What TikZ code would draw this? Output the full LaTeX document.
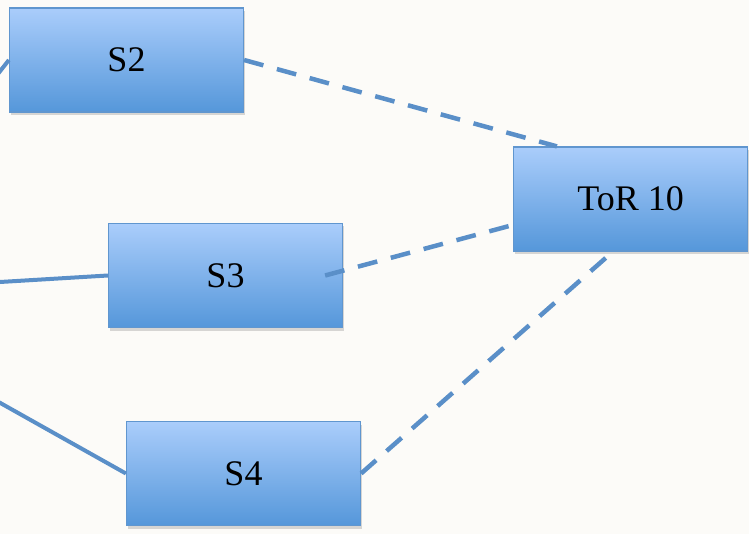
\documentclass[tikz,border=0pt]{standalone}
\usepackage{fontspec}
\setmainfont{Liberation Serif}
\usetikzlibrary{shadows}
\definecolor{paper}{HTML}{FCFBF8}
\definecolor{boxtop}{HTML}{AACDFB}
\definecolor{boxbot}{HTML}{5597DA}
\definecolor{boxedge}{HTML}{6096CF}
\definecolor{linkblue}{HTML}{5A8FC8}

\begin{document}
\begin{tikzpicture}[x=1pt,y=-1pt,
  switchbox/.style={rectangle, draw=boxedge, line width=1.2pt,
    top color=boxtop, bottom color=boxbot,
    minimum width=234pt, minimum height=104pt, inner sep=0pt,
    font=\fontsize{36}{40}\selectfont,
    drop shadow={shadow xshift=1pt, shadow yshift=-3pt, opacity=0.3}},
  wire/.style={linkblue, line width=4pt},
  uplink/.style={linkblue, line width=4.5pt, dash pattern=on 20pt off 14pt}]
\useasboundingbox (0,0) rectangle (749,534);
\clip (0,0) rectangle (749,534);
\fill[paper] (0,0) rectangle (749,534);

\node[switchbox] (s2) at (126.5,60) {S2};
\node[switchbox] (tor) at (630.5,199) {ToR 10};
\node[switchbox] (s3) at (225.5,275.5) {S3};
\node[switchbox] (s4) at (243.5,473.5) {S4};

% links coming in from the left
\coordinate (in2) at (-10,84);
\coordinate (in3) at (-5,282.3);
\coordinate (in4) at (-5,400);
\draw[wire] (in2) -- (s2.west);
\draw[wire] (in3) -- (s3.west);
\draw[wire] (in4) -- (s4.west);

% uplinks to the ToR
\draw[uplink] (s2.east) -- ([xshift=44pt]tor.north west);
\draw[uplink] ([xshift=-18pt]s3.east) -- ([yshift=-26pt]tor.west);
\draw[uplink] (s4.east) -- ([xshift=100pt]tor.south west);
\end{tikzpicture}
\end{document}
